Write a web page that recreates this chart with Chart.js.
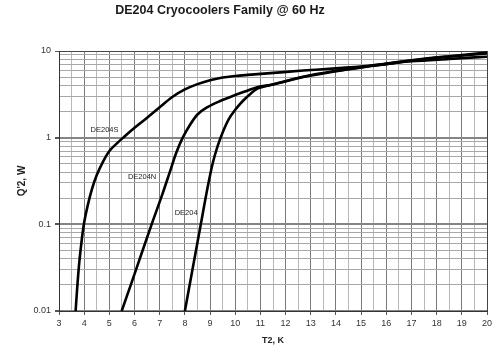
<!DOCTYPE html>
<html><head><meta charset="utf-8">
<script src="https://cdn.jsdelivr.net/npm/chart.js@4"></script>
<style>html,body{margin:0;padding:0;background:#fff}#wrap{width:497px;height:356px;position:relative}</style>
</head><body><div id="wrap"><canvas id="c" width="497" height="356"></canvas></div>
<script>
const titleText = 'DE204 Cryocoolers Family @ 60 Hz';
const xTitle = 'T2, K';
const yTitle = "Q'2, W";
const seriesNames = ['DE204S', 'DE204N', 'DE204'];

const de204sT = [3.66,3.72,3.8,3.9,4.0,4.15,4.3,4.5,4.75,5.0,5.3,5.6,6.0,6.5,7.0,7.5,8.0,8.5,9.0,9.5,10.0,10.5,11.4,12.7,14.0,15.4,17.0,18.5,20.0];
const de204sQ = [0.01,0.018,0.035,0.065,0.105,0.17,0.25,0.37,0.53,0.7,0.86,1.03,1.3,1.7,2.25,2.95,3.6,4.15,4.6,4.95,5.15,5.3,5.55,5.95,6.3,6.8,7.6,8.1,8.6];

const de204nT = [5.49,5.9,6.3,6.7,7.1,7.4,7.65,7.9,8.2,8.5,8.9,9.4,10.0,10.5,10.9,11.4,12.7,14.0,15.4,17.0,18.5,20.0];
const de204nQ = [0.01,0.022,0.048,0.104,0.22,0.4,0.66,0.98,1.4,1.85,2.25,2.65,3.1,3.5,3.85,4.05,5.0,5.85,6.7,7.75,8.6,9.4];

const de204T = [8.0,8.3,8.6,8.9,9.1,9.3,9.5,9.75,10.0,10.3,10.6,10.9,11.4,12.7,14.0,15.4,17.0,18.5,20.0];
const de204Q = [0.01,0.03,0.089,0.264,0.5,0.8,1.15,1.65,2.1,2.65,3.2,3.7,4.05,5.05,5.9,6.75,7.8,8.7,9.6];

const xMin = 3, xMax = 20, xStep = 0.5;
const yDecades = [0.01, 0.1, 1, 10];
const yTickLabels = ['0.01', '0.1', '1', '10'];

// anchor of each curve label, in data units (T, Q)
const labelT = [4.81, 6.30, 8.05];
const labelQ = [1.24, 0.35, 0.136];

const FONT = "'Liberation Sans', Arial, sans-serif";
const isDecade = v => Math.abs(Math.log10(v) - Math.round(Math.log10(v))) < 1e-9;

function toPts(T, Q) { return T.map((t, i) => ({x: t, y: Q[i]})); }
const seriesT = [de204sT, de204nT, de204T];
const seriesQ = [de204sQ, de204nQ, de204Q];

const datasets = seriesNames.map((n, i) => ({
  label: n,
  data: toPts(seriesT[i], seriesQ[i]),
  showLine: true,
  borderColor: '#000',
  borderWidth: 2.6,
  pointRadius: 0,
  fill: false,
  cubicInterpolationMode: 'monotone'
}));

const annot = {
  id: 'annot',
  afterDatasetsDraw(chart) {
    const ctx = chart.ctx, xs = chart.scales.x, ys = chart.scales.y;
    ctx.save();
    ctx.fillStyle = '#222';
    ctx.font = '7.5px ' + FONT;
    ctx.textAlign = 'center';
    ctx.textBaseline = 'middle';
    seriesNames.forEach((n, i) => {
      ctx.fillText(n, xs.getPixelForValue(labelT[i]), ys.getPixelForValue(labelQ[i]));
    });
    ctx.font = 'bold 12.5px ' + FONT;
    ctx.fillStyle = '#1a1a1a';
    ctx.fillText(titleText, 220, 11);
    ctx.restore();
  }
};

new Chart(document.getElementById('c'), {
  type: 'scatter',
  data: { datasets },
  plugins: [annot],
  options: {
    responsive: false,
    animation: false,
    devicePixelRatio: 1,
    layout: { padding: { top: 51, right: 10, left: 0, bottom: 0 } },
    plugins: { legend: { display: false }, title: { display: false }, tooltip: { enabled: false } },
    scales: {
      x: {
        type: 'linear', min: xMin, max: xMax,
        afterFit: s => { s.height = 45; },
        ticks: {
          stepSize: xStep, autoSkip: false, maxRotation: 0, padding: 3,
          color: '#333', font: { family: FONT, size: 9 },
          callback: v => Number.isInteger(v) ? String(v) : ''
        },
        grid: {
          color: c => Number.isInteger(c.tick.value) ? (c.tick.value === xMax ? '#444' : '#7a7a7a') : '#b8b8b8',
          lineWidth: 1,
          tickLength: 4,
          tickColor: c => Number.isInteger(c.tick.value) ? '#555' : 'rgba(0,0,0,0)'
        },
        border: { display: true, color: '#333', width: 1 },
        title: { display: true, text: xTitle, color: '#222', font: { family: FONT, size: 9, weight: 'bold' }, padding: { top: 0, bottom: 10 } }
      },
      y: {
        type: 'logarithmic', min: 0.01, max: 10,
        afterFit: s => { s.width = 59; },
        afterBuildTicks: s => {
          const t = [];
          for (let d = 0; d < yDecades.length - 1; d++) {
            for (let m = 1; m <= 9; m++) t.push({ value: Number((m * yDecades[d]).toPrecision(6)) });
          }
          t.push({ value: yDecades[yDecades.length - 1] });
          s.ticks = t;
        },
        ticks: {
          autoSkip: false, padding: 4, color: '#333', font: { family: FONT, size: 9 },
          callback: v => { const k = yDecades.findIndex(d => Math.abs(d - v) < 1e-9); return k >= 0 ? yTickLabels[k] : ''; }
        },
        grid: {
          color: c => isDecade(c.tick.value) ? (c.tick.value === 10 ? '#444' : '#858585') : '#a8a8a8',
          lineWidth: c => isDecade(c.tick.value) && c.tick.value !== 10 ? 2 : 1,
          tickLength: 4,
          tickColor: c => isDecade(c.tick.value) ? '#555' : 'rgba(0,0,0,0)'
        },
        border: { display: true, color: '#333', width: 1 },
        title: { display: true, text: yTitle, color: '#222', font: { family: FONT, size: 10, weight: 'bold' }, padding: { top: 16, bottom: 0 } }
      }
    }
  }
});
</script>
</body></html>
